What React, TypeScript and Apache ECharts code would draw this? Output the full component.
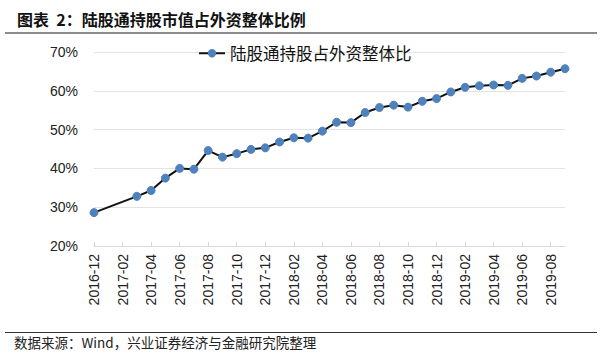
import React, { useEffect, useRef } from "react";
import * as echarts from "echarts";

const categories: string[] = [
  "2016-12", "2017-01", "2017-02", "2017-03", "2017-04", "2017-05", "2017-06", "2017-07",
  "2017-08", "2017-09", "2017-10", "2017-11", "2017-12", "2018-01", "2018-02", "2018-03",
  "2018-04", "2018-05", "2018-06", "2018-07", "2018-08", "2018-09", "2018-10", "2018-11",
  "2018-12", "2019-01", "2019-02", "2019-03", "2019-04", "2019-05", "2019-06", "2019-07",
  "2019-08", "2019-09",
];

const shareValues: (number | null)[] = [
  28.6, null, null, 32.8, 34.3, 37.5, 40.0, 39.8,
  44.6, 42.9, 43.8, 44.9, 45.3, 46.8, 47.9, 47.8,
  49.6, 51.9, 51.8, 54.4, 55.7, 56.3, 55.8, 57.3,
  58.0, 59.7, 60.9, 61.3, 61.5, 61.4, 63.2, 63.8,
  64.8, 65.7,
];

const seriesName = "陆股通持股占外资整体比";
const titleText = "图表  2：陆股通持股市值占外资整体比例";
const sourceText = "数据来源：Wind，兴业证券经济与金融研究院整理";

const CJK = '"Noto Sans CJK SC", "Noto Sans", sans-serif';
const LATIN = '"Liberation Sans", Arial, "Noto Sans CJK SC", sans-serif';

export default function App() {
  const ref = useRef<HTMLDivElement>(null);

  useEffect(() => {
    if (!ref.current) return;
    const chart = echarts.init(ref.current, undefined, { renderer: "svg" });
    chart.setOption({
      animation: false,
      backgroundColor: "#ffffff",
      title: {
        text: titleText,
        left: 12,
        top: 6,
        textStyle: { fontFamily: CJK, fontSize: 16, fontWeight: "bold", color: "#111" },
      },
      legend: {
        data: [seriesName],
        left: 193,
        top: 40,
        itemWidth: 26,
        itemHeight: 8,
        itemGap: 4,
        textStyle: { fontFamily: CJK, fontSize: 16.5, color: "#111" },
      },
      grid: { left: 94, right: 35, top: 52, bottom: 110, containLabel: false },
      xAxis: {
        type: "category",
        data: categories,
        boundaryGap: false,
        axisLine: { show: true, lineStyle: { color: "#d9d9d9", width: 1 } },
        axisTick: { show: true, inside: true, length: 4, interval: 1, lineStyle: { color: "#d9d9d9" } },
        axisLabel: {
          interval: 1,
          rotate: 90,
          margin: 8,
          fontFamily: LATIN,
          fontSize: 14,
          color: "#222",
        },
        splitLine: { show: false },
      },
      yAxis: {
        type: "value",
        min: 20,
        max: 70,
        interval: 10,
        axisLine: { show: false },
        axisTick: { show: false },
        axisLabel: {
          formatter: "{value}%",
          margin: 16,
          fontFamily: LATIN,
          fontSize: 14,
          color: "#222",
        },
        splitLine: { show: true, lineStyle: { color: "#e3e3e3", width: 1 } },
      },
      series: [
        {
          name: seriesName,
          type: "line",
          data: shareValues,
          connectNulls: true,
          symbol: "circle",
          symbolSize: 8,
          lineStyle: { color: "#111111", width: 2 },
          itemStyle: { color: "#4f81bd", borderColor: "#4f81bd", borderWidth: 1 },
        },
      ],
      graphic: [
        {
          type: "line",
          shape: { x1: 5, y1: 33, x2: 597, y2: 33 },
          style: { stroke: "#8c8c8c", lineWidth: 2 },
        },
        {
          type: "line",
          shape: { x1: 5, y1: 332.5, x2: 597, y2: 332.5 },
          style: { stroke: "#333333", lineWidth: 1 },
        },
        {
          type: "text",
          left: 14,
          top: 335,
          style: {
            text: sourceText,
            font: '13.5px "Noto Sans CJK SC", sans-serif',
            fill: "#222",
          },
        },
      ],
    });
    return () => chart.dispose();
  }, []);

  return (
    <div
      ref={ref}
      style={{ position: "absolute", left: 0, top: 0, width: 600, height: 356 }}
    />
  );
}
